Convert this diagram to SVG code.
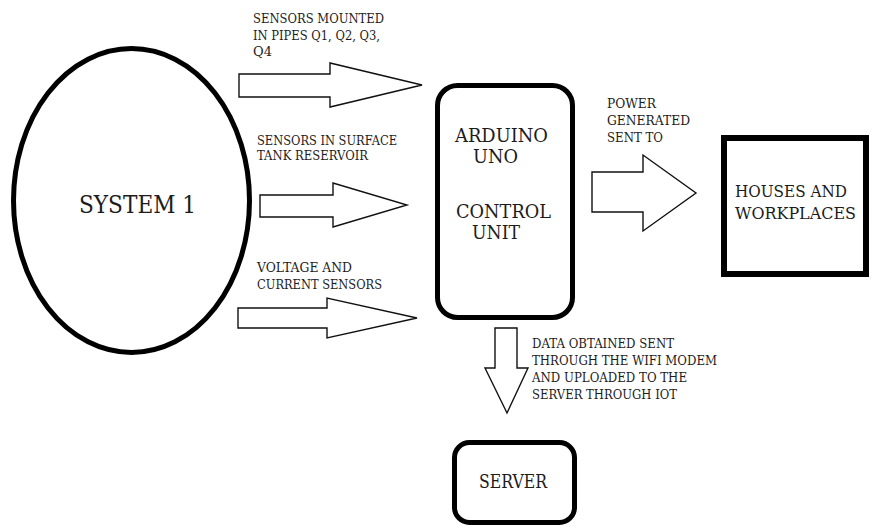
<svg xmlns="http://www.w3.org/2000/svg" width="873" height="527" viewBox="0 0 873 527">
  <style>
    .node { fill: #fff; stroke: #000; }
    .thick { stroke-width: 5; }
    .flow { fill: #fff; stroke: #111; stroke-width: 1.4; stroke-linejoin: miter; }
    .txt { font-family: "DejaVu Serif", "Liberation Serif", "Times New Roman", serif; fill: #1c1c1c; }
    .lbl { font-size: 13px; }
    .big { font-size: 19px; }
  </style>
  <rect width="873" height="527" fill="#fff"/>

  <!-- System source -->
  <g id="system1">
    <ellipse class="node thick" cx="131.5" cy="200.5" rx="118" ry="152"/>
    <text class="txt" x="79" y="213" font-size="24" textLength="117" lengthAdjust="spacingAndGlyphs">SYSTEM 1</text>
  </g>

  <!-- Controller -->
  <g id="arduino">
    <rect class="node thick" x="437.5" y="85.5" width="135" height="232" rx="20"/>
    <text class="txt big" x="455" y="142" textLength="93" lengthAdjust="spacingAndGlyphs">ARDUINO</text>
    <text class="txt big" x="473" y="163" textLength="45" lengthAdjust="spacingAndGlyphs">UNO</text>
    <text class="txt big" x="456" y="218" textLength="95" lengthAdjust="spacingAndGlyphs">CONTROL</text>
    <text class="txt big" x="472" y="239" textLength="48" lengthAdjust="spacingAndGlyphs">UNIT</text>
  </g>

  <!-- Consumers -->
  <g id="houses">
    <rect class="node" stroke-width="6" x="724" y="138" width="142" height="136"/>
    <text class="txt" x="735" y="197" font-size="17.5" textLength="112" lengthAdjust="spacingAndGlyphs">HOUSES AND</text>
    <text class="txt" x="735" y="219" font-size="17.5" textLength="121" lengthAdjust="spacingAndGlyphs">WORKPLACES</text>
  </g>

  <!-- Cloud server -->
  <g id="server">
    <rect class="node thick" x="454.5" y="442.5" width="120" height="80" rx="15"/>
    <text class="txt" x="479" y="488" font-size="18" textLength="68" lengthAdjust="spacingAndGlyphs">SERVER</text>
  </g>

  <!-- Block arrows -->
  <g id="connectors">
    <polygon class="flow" points="239,74 330,74 330,63 422,85 330,107 330,97 239,97"/>
    <polygon class="flow" points="260,195 333,195 333,183 407,205 333,227 333,217 260,217"/>
    <polygon class="flow" points="238,308 327,308 327,298 417,318 327,338 327,328 238,328"/>
    <polygon class="flow" points="592,172 643,172 643,155 696,193 643,231 643,212 592,212"/>
    <polygon class="flow" points="495,328 517,328 517,368 528,368 507,413 485,368 495,368"/>
  </g>

  <!-- Connector labels -->
  <g id="labels">
    <text class="txt lbl" x="253" y="23" textLength="131" lengthAdjust="spacingAndGlyphs">SENSORS MOUNTED</text>
    <text class="txt lbl" x="253" y="40" textLength="127" lengthAdjust="spacingAndGlyphs">IN PIPES Q1, Q2, Q3,</text>
    <text class="txt lbl" x="253" y="56">Q4</text>

    <text class="txt lbl" x="257" y="145" textLength="140" lengthAdjust="spacingAndGlyphs">SENSORS IN SURFACE</text>
    <text class="txt lbl" x="257" y="160" textLength="111" lengthAdjust="spacingAndGlyphs">TANK RESERVOIR</text>

    <text class="txt lbl" x="257" y="272" textLength="95" lengthAdjust="spacingAndGlyphs">VOLTAGE AND</text>
    <text class="txt lbl" x="257" y="289" textLength="125" lengthAdjust="spacingAndGlyphs">CURRENT SENSORS</text>

    <text class="txt lbl" x="607" y="108" textLength="49" lengthAdjust="spacingAndGlyphs">POWER</text>
    <text class="txt lbl" x="607" y="125" textLength="83" lengthAdjust="spacingAndGlyphs">GENERATED</text>
    <text class="txt lbl" x="607" y="142" textLength="56" lengthAdjust="spacingAndGlyphs">SENT TO</text>

    <text class="txt lbl" x="532" y="348" textLength="142" lengthAdjust="spacingAndGlyphs">DATA OBTAINED SENT</text>
    <text class="txt lbl" x="532" y="365" textLength="185" lengthAdjust="spacingAndGlyphs">THROUGH THE WIFI MODEM</text>
    <text class="txt lbl" x="532" y="382" textLength="155" lengthAdjust="spacingAndGlyphs">AND UPLOADED TO THE</text>
    <text class="txt lbl" x="532" y="399" textLength="145" lengthAdjust="spacingAndGlyphs">SERVER THROUGH IOT</text>
  </g>
</svg>
